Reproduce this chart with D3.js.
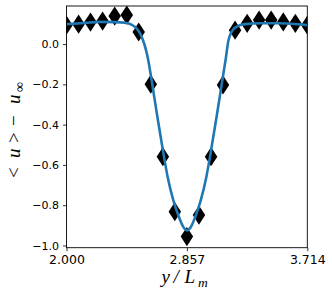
<!DOCTYPE html>
<html>
<head>
<meta charset="utf-8">
<script src="https://cdn.jsdelivr.net/npm/d3@7"></script>
<style>
  body { margin: 0; background: #fff; }
  .tick-label { font-family: 'DejaVu Sans', sans-serif; fill: #000; }
  .math-text { font-family: 'Liberation Serif', serif; fill: #000; }
</style>
</head>
<body>
<div id="chart"></div>
<script>
// sample points (diamonds)
const markerX = [2.000, 2.086, 2.171, 2.257, 2.343, 2.429, 2.514, 2.600, 2.686, 2.771, 2.857,
  2.943, 3.029, 3.114, 3.200, 3.286, 3.371, 3.457, 3.543, 3.629, 3.714];
const markerY = [0.094, 0.099, 0.109, 0.114, 0.139, 0.144, 0.060, -0.199, -0.559, -0.832, -0.956,
  -0.849, -0.559, -0.203, 0.069, 0.103, 0.119, 0.119, 0.110, 0.103, 0.094];

// fitted profile (blue line)
const fitX = [2.000, 2.132, 2.238, 2.345, 2.416, 2.466, 2.495, 2.523, 2.544, 2.566, 2.582, 2.606,
  2.642, 2.689, 2.720, 2.760, 2.796, 2.829, 2.857, 2.885, 2.918, 2.954, 2.994, 3.025, 3.072,
  3.108, 3.132, 3.152, 3.175, 3.211, 3.270, 3.377, 3.520, 3.714];
const fitY = [0.099, 0.105, 0.110, 0.109, 0.106, 0.095, 0.080, 0.053, 0.020, -0.030, -0.080, -0.180,
  -0.340, -0.540, -0.660, -0.775, -0.850, -0.905, -0.925, -0.908, -0.855, -0.780, -0.665, -0.545, -0.345,
  -0.185, -0.080, 0.015, 0.061, 0.086, 0.099, 0.103, 0.103, 0.094];

const xTicks = [2.000, 2.857, 3.714];
const xTickLabels = ['2.000', '2.857', '3.714'];
const yTicks = [0.0, -0.2, -0.4, -0.6, -0.8, -1.0];

const width = 332;
const height = 298;
const margin = { top: 6, right: 24.7, bottom: 50.3, left: 66.5 };
const innerW = width - margin.left - margin.right;
const innerH = height - margin.top - margin.bottom;

const svg = d3.select('#chart')
  .append('svg')
  .attr('width', width)
  .attr('height', height);

const x = d3.scaleLinear().domain([2.0, 3.714]).range([0, innerW]);
const y = d3.scaleLinear().domain([-1.011, 0.189]).range([innerH, 0]);

const plot = svg.append('g').attr('transform', `translate(${margin.left},${margin.top})`);

plot.append('clipPath')
  .attr('id', 'plot-clip')
  .append('rect')
  .attr('width', innerW)
  .attr('height', innerH);

// thin diamond, width about 0.65 of its height
const thinDiamond = {
  draw(context, size) {
    const h = Math.sqrt(size);
    const w = h * 0.65;
    context.moveTo(0, -h);
    context.lineTo(w, 0);
    context.lineTo(0, h);
    context.lineTo(-w, 0);
    context.closePath();
  },
};

/* Method to draw the black diamond markers
   Params: @g is the group holding the markers
*/
function AppendMarkers(g) {
  const diamond = d3.symbol(thinDiamond, 9.6 * 9.6);
  g.append('g')
    .attr('clip-path', 'url(#plot-clip)')
    .selectAll('path')
    .data(markerX.map((v, i) => [v, markerY[i]]))
    .join('path')
    .attr('d', diamond)
    .attr('transform', (d) => `translate(${x(d[0])},${y(d[1])})`)
    .attr('fill', '#000');
}

/* Method to draw the fitted profile
   Params: @g is the group holding the line
*/
function AppendFitLine(g) {
  const line = d3.line()
    .x((d) => x(d[0]))
    .y((d) => y(d[1]))
    .curve(d3.curveMonotoneX);
  g.append('path')
    .attr('clip-path', 'url(#plot-clip)')
    .datum(fitX.map((v, i) => [v, fitY[i]]))
    .attr('d', line)
    .attr('fill', 'none')
    .attr('stroke', '#1f77b4')
    .attr('stroke-width', 2.6)
    .attr('stroke-linejoin', 'round')
    .attr('stroke-linecap', 'round');
}

function AppendAxes(g) {
  const xAxis = g.append('g')
    .attr('transform', `translate(0,${innerH})`)
    .call(d3.axisBottom(x).tickValues(xTicks).tickSize(3.5).tickPadding(4)
      .tickFormat((d, i) => xTickLabels[i]));
  xAxis.selectAll('text').attr('class', 'tick-label').style('font-size', '12.5px');

  const yAxis = g.append('g')
    .call(d3.axisLeft(y).tickValues(yTicks).tickSize(3.5).tickPadding(4)
      .tickFormat(d3.format('.1f')));
  yAxis.selectAll('text').attr('class', 'tick-label').style('font-size', '11px');

  g.selectAll('.domain').remove();
  g.selectAll('.tick line').attr('stroke', '#000').attr('stroke-width', 0.8);

  // frame
  g.append('rect')
    .attr('width', innerW)
    .attr('height', innerH)
    .attr('fill', 'none')
    .attr('stroke', '#000')
    .attr('stroke-width', 0.9);
}

/* Method to write a math label glyph by glyph
   Params: @parent is the text element
           @parts is a list of [glyph, x, y, size, italic]
*/
function AppendMathParts(parent, parts) {
  parts.forEach(([glyph, px, py, size, italic]) => {
    parent.append('tspan')
      .attr('x', px)
      .attr('y', py)
      .style('font-size', `${size}px`)
      .style('font-style', italic ? 'italic' : 'normal')
      .text(glyph);
  });
}

function AppendLabels() {
  const xLabel = svg.append('text').attr('class', 'math-text');
  AppendMathParts(xLabel, [
    ['y', 161.5, 283, 19, true],
    ['/', 173.5, 283, 19, true],
    ['L', 184.5, 283, 19, true],
    ['m', 198, 287, 13.5, true],
  ]);

  const yLabel = svg.append('g')
    .attr('transform', 'translate(19.5,123) rotate(-90)')
    .append('text')
    .attr('class', 'math-text');
  AppendMathParts(yLabel, [
    ['<', -55, 0, 19, false],
    ['u', -35, 0, 19, true],
    ['>', -20, 0, 19, false],
    ['\u2212', -3, 0, 19, false],
    ['u', 19, 0, 19, true],
    ['\u221e', 31, 4.5, 14, false],
  ]);
}

AppendMarkers(plot);
AppendFitLine(plot);
AppendAxes(plot);
AppendLabels();
</script>
</body>
</html>
